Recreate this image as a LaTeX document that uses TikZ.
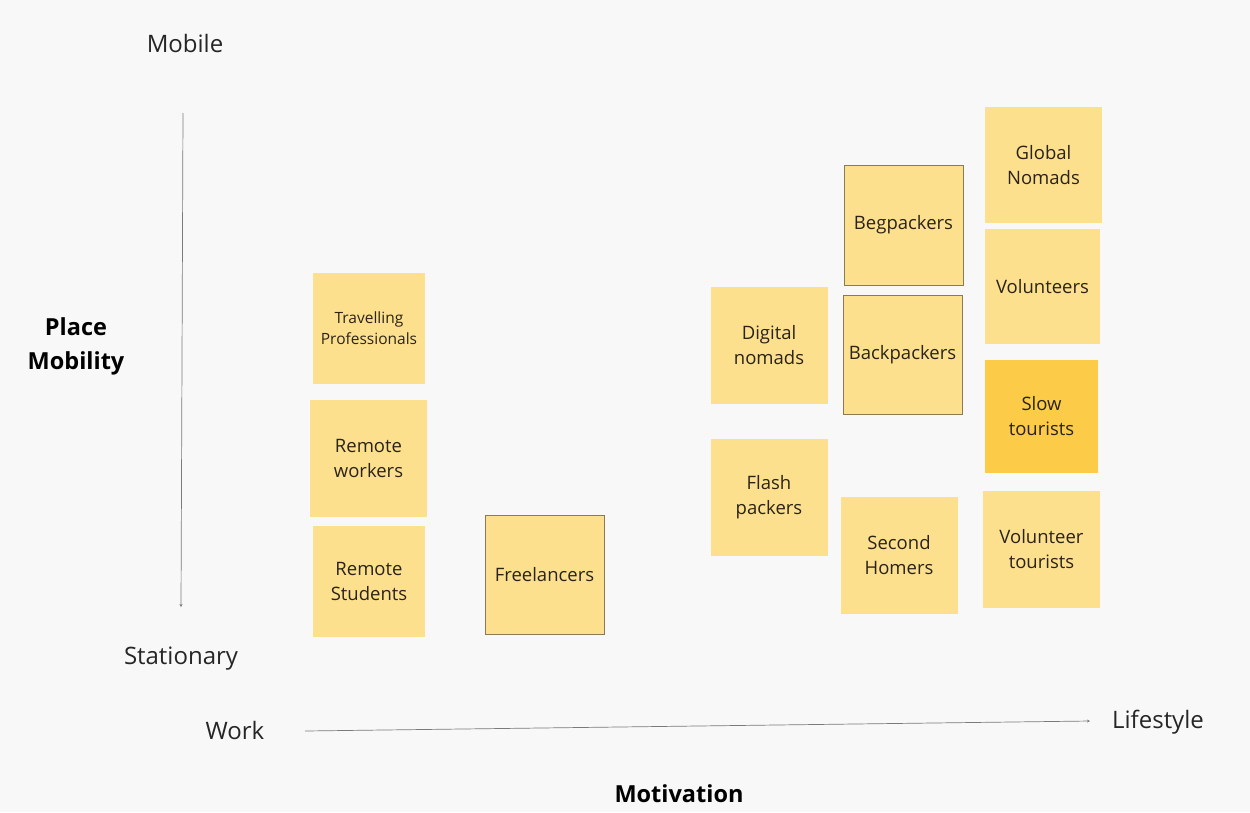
\documentclass[tikz,border=0pt]{standalone}
\usepackage{fontspec}
\setmainfont{Open Sans}
\usetikzlibrary{arrows.meta}
\definecolor{canvas}{HTML}{F8F8F8}
\definecolor{sticky}{HTML}{FDE08E}
\definecolor{stickydark}{HTML}{FCCB47}
\definecolor{stickyedge}{HTML}{8A7A55}
\definecolor{axisgray}{HTML}{7A7A7A}
\definecolor{inkdark}{HTML}{2A2418}

\tikzset{
  note/.style={fill=sticky, align=center, text=inkdark, font=\fontsize{18.5}{25}\selectfont,
               inner sep=0pt, minimum width=117, minimum height=117},
  framed/.style={draw=stickyedge, line width=0.9pt},
  axislabel/.style={font=\fontsize{24}{28}\selectfont, text=black!85},
  axistitle/.style={font=\bfseries\fontsize{23.5}{34}\selectfont, align=center},
  axisline/.style={axisgray, line width=0.7pt, -{Stealth[length=3pt,width=3pt]}}
}

\begin{document}
\begin{tikzpicture}[x=1pt, y=-1pt]
\useasboundingbox[fill=canvas] (0,0) rectangle (1250,812);
% ---- axes -----------------------------------------------------------
\node[axislabel] (mobile) at (185,43) {Mobile};
\node[axislabel] (stationary) at (181,659) {Stationary};
\node[axislabel] (work) at (235,730) {Work};
\node[axislabel] (lifestyle) at (1158,722) {Lifestyle};
\node[axistitle] (placemob) at (76,346) {Place\\Mobility};
\node[axistitle] (motiv) at (679,794) {Motivation};
\coordinate (vtop) at (183,113);
\coordinate (vbot) at (181,607);
\coordinate (hleft) at (305,731);
\coordinate (hright) at (1090,721);
\draw[axisline] (vtop) -- (vbot);
\draw[axisline] (hleft) -- (hright);
% ---- work side ------------------------------------------------------
\node[note, minimum width=112, minimum height=111, font=\fontsize{15.5}{21}\selectfont]
     (travpro) at (369,328.5) {Travelling\\Professionals};
\node[note] (remwork) at (368.5,458) {Remote\\workers};
\node[note, minimum width=112, minimum height=111] (remstud) at (369,581.5) {Remote\\Students};
\node[note, framed, minimum width=119, minimum height=119] (freelance) at (544.5,574.5) {Freelancers};
% ---- lifestyle side -------------------------------------------------
\node[note] (dignomad) at (769,345.5) {Digital\\nomads};
\node[note] (flashpack) at (769,497.5) {Flash\\packers};
\node[note, framed, minimum width=119, minimum height=120] (begpack) at (903.5,225) {Begpackers};
\node[note, framed, minimum width=119, minimum height=119] (backpack) at (902.5,354.5) {Backpackers};
\node[note] (secondhome) at (899,555.5) {Second\\Homers};
\node[note, minimum height=116] (globnomad) at (1043.5,165) {Global\\Nomads};
\node[note, minimum width=115, minimum height=115] (volunteer) at (1042.5,286.5) {Volunteers};
\node[note, fill=stickydark, minimum width=113, minimum height=113] (slowtour) at (1041.5,416.5) {Slow\\tourists};
\node[note] (voltour) at (1041.5,549) {Volunteer\\tourists};
\end{tikzpicture}
\end{document}
